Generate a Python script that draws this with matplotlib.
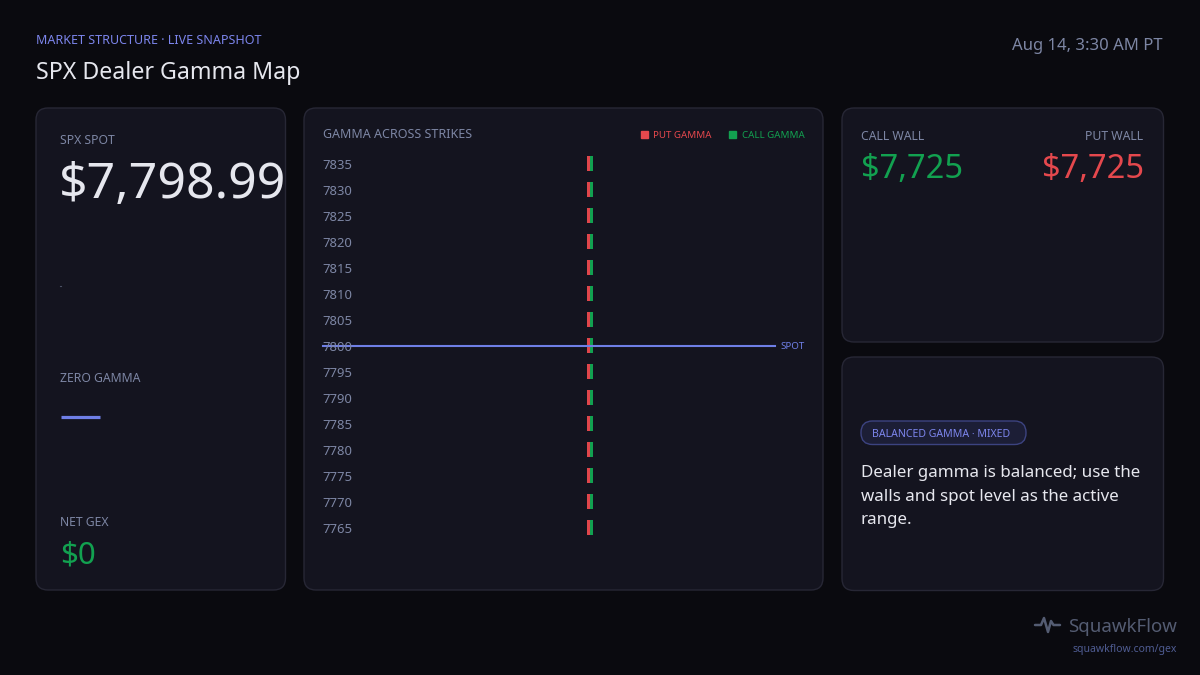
import matplotlib
matplotlib.use("Agg")
import matplotlib.pyplot as plt
from matplotlib.patches import FancyBboxPatch, Rectangle
from matplotlib import transforms

plt.rcParams['font.family'] = ['Noto Sans', 'DejaVu Sans']

strikes = [7835, 7830, 7825, 7820, 7815, 7810, 7805, 7800,
           7795, 7790, 7785, 7780, 7775, 7770, 7765]
put_gamma = [0, 0, 0, 0, 0, 0, 0, 0, 0, 0, 0, 0, 0, 0, 0]
call_gamma = [0, 0, 0, 0, 0, 0, 0, 0, 0, 0, 0, 0, 0, 0, 0]
spot = 7798.99
call_wall = 7725
put_wall = 7725
net_gex = 0
regime = 'BALANCED GAMMA · MIXED'
summary = ['Dealer gamma is balanced; use the',
           'walls and spot level as the active',
           'range.']
stamp = 'Aug 14, 3:30 AM PT'

# ---- colours ----
BG = '#0a0a0f'
PANEL = '#14141f'
EDGE = '#272735'
MUTED = '#7d86a4'
TEXT = '#e6e7ee'
ACCENT = '#7c85ec'
LINE = '#6f7fe6'
GREEN = '#12a150'
RED = '#e5484d'
FOOT = '#545c72'

fig = plt.figure(figsize=(12, 6.75), dpi=100, facecolor=BG)

# full-figure canvas in pixel units (y down, like the page)
canvas = fig.add_axes([0, 0, 1, 1])
canvas.set_xlim(0, 1200)
canvas.set_ylim(675, 0)
canvas.axis('off')


def panel(x0, y0, x1, y1):
    p = FancyBboxPatch((x0, y0), x1 - x0, y1 - y0,
                       boxstyle='round,pad=0,rounding_size=12',
                       fc=PANEL, ec=EDGE, lw=1)
    canvas.add_patch(p)
    return p


def label(x, y, s, size, color, ha='left', **kw):
    return canvas.text(x, y, s, fontsize=size, color=color, ha=ha,
                       va='baseline', **kw)


# header
label(36, 44, 'MARKET STRUCTURE · LIVE SNAPSHOT', 9, ACCENT)
label(36, 79, 'SPX Dealer Gamma Map', 16.7, TEXT)
label(1163, 49.5, stamp, 12, MUTED, ha='right')

# left panel: spot / zero gamma / net gex
panel(36, 108, 285.5, 590)
label(60, 144, 'SPX SPOT', 8.8, MUTED)
label(59, 198, f'${spot:,.2f}', 36, TEXT)
canvas.plot([59.5, 61], [286, 286], color='#4a4f63', lw=0.8)
label(60, 382, 'ZERO GAMMA', 8.8, MUTED)
canvas.plot([60.5, 99.5], [416.5, 416.5], color=LINE, lw=2.3, solid_capstyle='butt')
label(60, 526, 'NET GEX', 8.8, MUTED)
label(60, 563, f'${net_gex:,.0f}', 22.5, GREEN)

# middle panel: gamma ladder
panel(304, 108, 823, 590)
label(323, 138.5, 'GAMMA ACROSS STRIKES', 9, MUTED)
canvas.add_patch(Rectangle((641, 131), 6.5, 6.5, color=RED))
label(653, 138.3, 'PUT GAMMA', 7, RED)
canvas.add_patch(Rectangle((729, 131), 6.5, 6.5, color=GREEN))
label(805, 138.3, 'CALL GAMMA', 7, GREEN, ha='right')

# bar axes: centre line at x=590px, rows 26px apart
ax_l, ax_r, ax_t, ax_b = 375, 805, 150, 542
ax = fig.add_axes([ax_l / 1200, 1 - ax_b / 675,
                   (ax_r - ax_l) / 1200, (ax_b - ax_t) / 675])
ax.set_facecolor('none')
step = strikes[0] - strikes[1]
ax.set_ylim(strikes[-1] - step * 14 / 26, strikes[0] + step * 14 / 26)
scale = max([abs(v) for v in put_gamma + call_gamma] + [1])
ax.set_xlim(-scale, scale)
px = scale / 215          # one pixel in gamma units
floor = 2.4 * px
gap = 0.35 * px
bar_h = step * 15 / 26
put_w = [max(abs(v), floor) for v in put_gamma]
call_w = [max(abs(v), floor) for v in call_gamma]
ax.barh(strikes, put_w, left=[-gap - w for w in put_w], height=bar_h,
        color='#e0464b', lw=0)
ax.barh(strikes, call_w, left=gap, height=bar_h, color=GREEN, lw=0)
for s in ax.spines.values():
    s.set_visible(False)
ax.set_xticks([])
ax.set_yticks(strikes, labels=[str(s) for s in strikes], ha='left')
ax.tick_params(axis='y', length=0, pad=(ax_l - 322.5) * 0.72,
               labelsize=9.4, labelcolor=MUTED)

# spot marker at the nearest listed strike
near = min(strikes, key=lambda s: abs(s - spot))
blend = transforms.blended_transform_factory(ax.transAxes, ax.transData)
x_from = (323 - ax_l) / (ax_r - ax_l)
x_to = (775 - ax_l) / (ax_r - ax_l)
ax.plot([x_from, x_to], [near, near], transform=blend, color=LINE, lw=1.5,
        clip_on=False, zorder=1)
ax.text((780 - ax_l) / (ax_r - ax_l), near, 'SPOT', transform=blend,
        fontsize=7, color=LINE, va='center_baseline', ha='left')

# right top: walls
panel(842, 108, 1163.5, 342)
label(861, 140, 'CALL WALL', 8.8, MUTED)
label(1143, 140, 'PUT WALL', 8.8, MUTED, ha='right')
label(861, 178.3, f'${call_wall:,.0f}', 23.5, GREEN)
label(1144, 178.3, f'${put_wall:,.0f}', 23.5, RED, ha='right')

# right bottom: regime
panel(842, 357, 1163.5, 590.5)
pill = FancyBboxPatch((861, 421), 165, 23.5,
                      boxstyle='round,pad=0,rounding_size=11.5',
                      fc='#1c1e36', ec='#3c4380', lw=1)
canvas.add_patch(pill)
label(872, 437, regime, 7.6, ACCENT)
for i, line in enumerate(summary):
    label(861, 477.3 + 23.3 * i, line, 12.2, TEXT)

# footer brand
canvas.plot([1035, 1041, 1044, 1048, 1051, 1053.5, 1060],
            [625, 625, 618, 632, 621, 625, 625],
            color=FOOT, lw=1.8, solid_joinstyle='round', solid_capstyle='round')
label(1177, 632, 'SquawkFlow', 13.4, FOOT, ha='right')
label(1177, 652, 'squawkflow.com/gex', 7.5, '#4f5c92', ha='right')

fig.savefig('out.png', dpi=100, facecolor=BG)
